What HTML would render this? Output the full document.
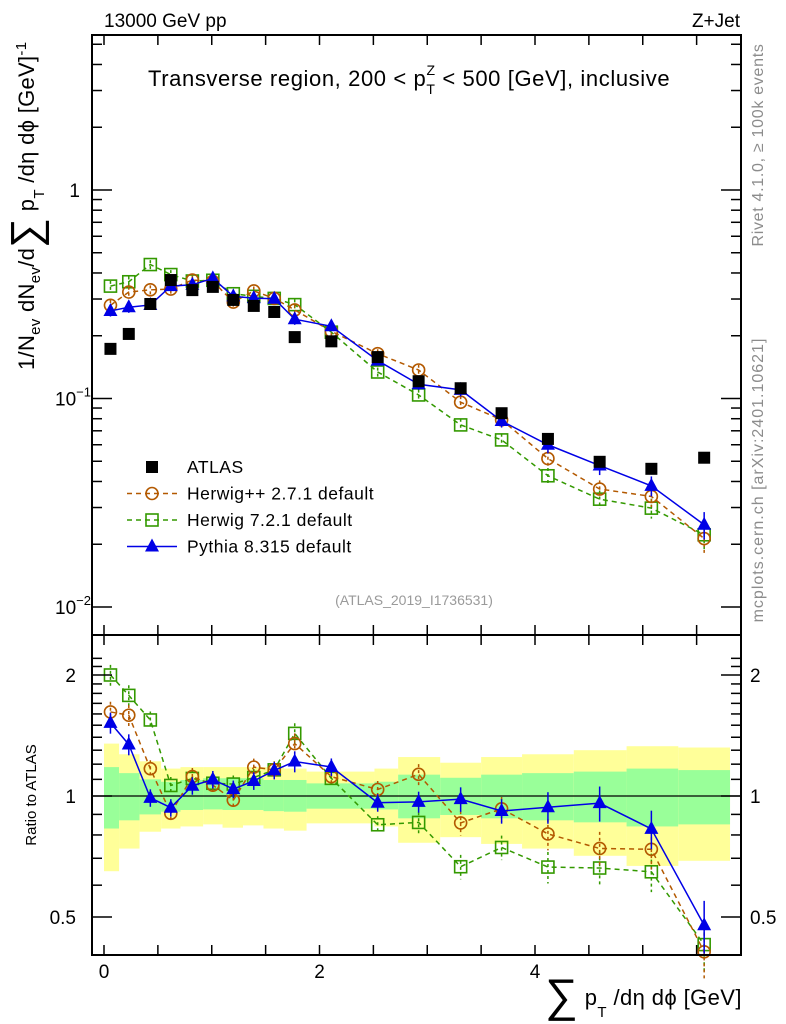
<!DOCTYPE html>
<html><head><meta charset="utf-8"><style>
html,body{margin:0;padding:0;background:#fff;}
svg{display:block;font-family:"Liberation Sans","DejaVu Sans",sans-serif;}
</style></head><body>
<svg id="chart" width="786" height="1024" viewBox="0 0 786 1024" xmlns="http://www.w3.org/2000/svg">
<rect x="0" y="0" width="786" height="1024" fill="#fff"/>
<g id="bands"></g>
<g id="marks"></g>
<g id="axes"></g>
<text x="104" y="27" font-size="19">13000 GeV pp</text>
<text x="740" y="27" font-size="19" text-anchor="end">Z+Jet</text>
<text x="148" y="86" font-size="22" letter-spacing="0.6">Transverse region, 200 &lt; p<tspan font-size="14" dy="8">T</tspan><tspan font-size="14" dx="-9" dy="-19">Z</tspan><tspan dy="11"> &lt; 500 [GeV], inclusive</tspan></text>
<text transform="translate(763,145) rotate(-90)" font-size="16" fill="#8c8c8c" text-anchor="middle" letter-spacing="0.7">Rivet 4.1.0, ≥ 100k events</text>
<text transform="translate(763,480) rotate(-90)" font-size="16" fill="#8c8c8c" text-anchor="middle" letter-spacing="1">mcplots.cern.ch [arXiv:2401.10621]</text>
<text x="414" y="605" font-size="14" fill="#9a9a9a" text-anchor="middle">(ATLAS_2019_I1736531)</text>
<text transform="translate(34,370) rotate(-90)" font-size="22" letter-spacing="0.3">1/N<tspan font-size="15" dy="6">ev</tspan><tspan dy="-6"> dN</tspan><tspan font-size="15" dy="6">ev</tspan><tspan dy="-6">/d</tspan><tspan font-size="42" dy="6">∑</tspan><tspan dy="-6"> p</tspan><tspan font-size="15" dy="10">T</tspan><tspan dy="-10"> /dη dϕ  [GeV]</tspan><tspan font-size="15" dy="-8">-1</tspan></text>
<text transform="translate(36,795) rotate(-90)" font-size="15" text-anchor="middle">Ratio to ATLAS</text>
<text x="545" y="1005" font-size="22" letter-spacing="0.4"><tspan font-size="46" dy="6">∑</tspan><tspan dy="-6"> p</tspan><tspan font-size="15" dy="12">T</tspan><tspan dy="-12"> /dη dϕ [GeV]</tspan></text>
<g id="legend"></g>
</svg>
<script>
// ---- data ----
const binCenters = [0.06,0.23,0.43,0.62,0.82,1.01,1.2,1.39,1.58,1.77,2.11,2.54,2.92,3.31,3.69,4.12,4.6,5.08,5.57];
const atlasValues = [0.173,0.204,0.284,0.37,0.331,0.343,0.297,0.278,0.26,0.197,0.188,0.158,0.121,0.112,0.085,0.064,0.0497,0.046,0.052];
const herwigppValues = [0.280,0.324,0.332,0.335,0.370,0.365,0.290,0.328,0.302,0.266,0.210,0.164,0.137,0.096,0.079,0.0515,0.0368,0.0339,0.0213];
const herwig7Values = [0.346,0.363,0.439,0.393,0.366,0.369,0.318,0.309,0.302,0.282,0.208,0.134,0.104,0.0747,0.0633,0.0426,0.0329,0.0298,0.0222];
const pythiaValues = [0.263,0.274,0.281,0.346,0.351,0.377,0.309,0.303,0.301,0.240,0.222,0.152,0.117,0.110,0.078,0.060,0.0477,0.0381,0.0248];
const mcRelErr = [0.06,0.06,0.05,0.05,0.05,0.05,0.05,0.05,0.05,0.06,0.05,0.05,0.06,0.07,0.07,0.09,0.1,0.11,0.15];
const bandEdges = [0,0.14,0.33,0.53,0.71,0.92,1.1,1.29,1.48,1.67,1.88,2.51,2.73,3.12,3.5,3.88,4.36,4.85,5.33,5.81];
const yellowUp = [1.35,1.27,1.22,1.17,1.18,1.18,1.18,1.18,1.18,1.17,1.15,1.17,1.25,1.21,1.25,1.27,1.30,1.33,1.32];
const yellowDn = [0.65,0.74,0.815,0.83,0.84,0.85,0.834,0.845,0.83,0.82,0.855,0.84,0.765,0.79,0.76,0.74,0.71,0.67,0.69];
const greenUp = [1.18,1.14,1.10,1.085,1.096,1.107,1.107,1.107,1.096,1.096,1.075,1.085,1.13,1.11,1.13,1.14,1.15,1.17,1.16];
const greenDn = [0.83,0.87,0.90,0.914,0.923,0.926,0.923,0.923,0.917,0.914,0.93,0.926,0.88,0.897,0.88,0.87,0.86,0.84,0.85];
const xTickLabels = ["0","2","4"];
const ratioTickLabels = ["0.5","1","2"];

// ---- axes functions ----
const L=92,R=741,T=35,M=635,B=955;
const sx = v => 104 + 107.75*v;
const sy = v => 190 - 208.5*Math.log10(v);
const sr = r => 796 - 402*Math.log10(r);
const NS="http://www.w3.org/2000/svg";
function mk(tag, attrs, parent){const e=document.createElementNS(NS,tag);for(const k in attrs)e.setAttribute(k,attrs[k]);parent.appendChild(e);return e;}
const bands=document.getElementById('bands'), marks=document.getElementById('marks'), axes=document.getElementById('axes'), legend=document.getElementById('legend');

for(let i=0;i<yellowUp.length;i++){
  const x0=sx(bandEdges[i]), x1=sx(bandEdges[i+1]);
  const y=mk('rect',{x:x0,y:sr(yellowUp[i]),width:x1-x0,height:sr(yellowDn[i])-sr(yellowUp[i]),fill:'#ffff99'},bands);
  
  
  const g=mk('rect',{x:x0,y:sr(greenUp[i]),width:x1-x0,height:sr(greenDn[i])-sr(greenUp[i]),fill:'#99ff99'},bands);
  
  
}
const one=mk('line',{x1:L,x2:R,y1:sr(1),y2:sr(1),stroke:'#000','stroke-width':1.3},bands);



const f1=mk('rect',{x:L,y:T,width:R-L,height:M-T,fill:'none',stroke:'#000','stroke-width':2},axes);


const f2=mk('rect',{x:L,y:M,width:R-L,height:B-M,fill:'none',stroke:'#000','stroke-width':2},axes);



for(let v=0;v<=5.5;v+=0.5){
  const x=sx(v);
  for(const [a,b] of [[T,T+10],[M-10,M],[M,M+10],[B-10,B]]){
    const t=mk('line',{x1:x,x2:x,y1:a,y2:b,stroke:'#000','stroke-width':1.5},axes);
    
    
  }
}
xTickLabels.forEach(s=>{
  const t=mk('text',{x:sx(+s),y:978,'font-size':19,'text-anchor':'middle'},axes);
  t.textContent=s;
  
  
});
for(let e=-2;e<=0;e++){
  for(let m=1;m<=9;m++){
    const v=m*Math.pow(10,e); const y=sy(v);
    if(y<T||y>M) continue;
    const len=m==1?20:10;
    const a=mk('line',{x1:L,x2:L+len,y1:y,y2:y,stroke:'#000','stroke-width':1.5},axes);
    
    
    const b=mk('line',{x1:R-len,x2:R,y1:y,y2:y,stroke:'#000','stroke-width':1.5},axes);
    
    
  }
}
const y1l=mk('text',{x:80,y:sy(1)+7,'font-size':19,'text-anchor':'end'},axes);
y1l.textContent='1';


[-1,-2].forEach(e=>{
  const t=mk('text',{x:55,y:sy(Math.pow(10,e))+7,'font-size':19},axes);
  t.innerHTML='10<tspan font-size="13" dy="-9">−'+(-e)+'</tspan>';
  
  
});
for(let k=5;k<=22;k++){
  const r=k/10, y=sr(r);
  if(y<M||y>B) continue;
  const len=(k==5||k==10||k==20)?20:10;
  const a=mk('line',{x1:L,x2:L+len,y1:y,y2:y,stroke:'#000','stroke-width':1.5},axes);
  
  
  const b=mk('line',{x1:R-len,x2:R,y1:y,y2:y,stroke:'#000','stroke-width':1.5},axes);
  
  
}
ratioTickLabels.forEach(s=>{
  const a=mk('text',{x:76,y:sr(+s)+7,'font-size':19,'text-anchor':'end'},axes);
  a.textContent=s;
  
  
  const b=mk('text',{x:750,y:sr(+s)+7,'font-size':19},axes);
  b.textContent=s;
  
  
});

function marker(kind,color,x,y,parent){
  let e;
  if(kind==='sq') e=mk('rect',{x:x-6,y:y-6,width:12,height:12,fill:'#000'},parent);
  else if(kind==='osq') e=mk('rect',{x:x-6,y:y-6,width:12,height:12,fill:'none',stroke:color,'stroke-width':1.6},parent);
  else if(kind==='oc') e=mk('circle',{cx:x,cy:y,r:6,fill:'none',stroke:color,'stroke-width':1.6},parent);
  else e=mk('polygon',{points:`${x},${y-8} ${x-7},${y+5} ${x+7},${y+5}`,fill:color},parent);
  return e;
}
const series=[
  {name:'herwig7',vals:herwig7Values,color:'#339900',kind:'osq',dash:'5,4'},
  {name:'herwigpp',vals:herwigppValues,color:'#b35900',kind:'oc',dash:'5,4'},
  {name:'pythia',vals:pythiaValues,color:'#0000e6',kind:'tri',dash:''}
];
series.forEach(s=>{
  const pm=binCenters.map((c,i)=>`${sx(c)},${sy(s.vals[i])}`).join(' ');
  const pr=binCenters.map((c,i)=>`${sx(c)},${sr(s.vals[i]/atlasValues[i])}`).join(' ');
  const l1=mk('polyline',{points:pm,fill:'none',stroke:s.color,'stroke-width':1.5,'stroke-dasharray':s.dash},marks);
  
  
  const l2=mk('polyline',{points:pr,fill:'none',stroke:s.color,'stroke-width':1.5,'stroke-dasharray':s.dash},marks);
  
  
  binCenters.forEach((c,i)=>{
    const x=sx(c), v=s.vals[i], r=v/atlasValues[i], e=mcRelErr[i];
    [[sy(v*(1+e)),sy(v*(1-e)),sy(v)],[sr(r*(1+e)),sr(r*(1-e)),sr(r)]].forEach(([a,b,m],k)=>{
      const eb=mk('line',{x1:x,x2:x,y1:a,y2:b,stroke:s.color,'stroke-width':1.5,'stroke-dasharray':s.dash?'3,3':''},marks);
      
      
      const p=marker(s.kind,s.color,x,m,marks);
      
      
    });
  });
});
binCenters.forEach((c,i)=>{
  const p=marker('sq','#000',sx(c),sy(atlasValues[i]),marks);
  
  
});

const legItems=[{kind:'sq',color:'#000',dash:'',label:'ATLAS',n:'atlas'},{kind:'oc',color:'#b35900',dash:'5,4',label:'Herwig++ 2.7.1 default',n:'herwigpp'},{kind:'osq',color:'#339900',dash:'5,4',label:'Herwig 7.2.1 default',n:'herwig7'},{kind:'tri',color:'#0000e6',dash:'',label:'Pythia 8.315 default',n:'pythia'}];
legItems.forEach((it,i)=>{
  const y=467+i*26.5;
  if(it.n!=='atlas'){
    const ln=mk('line',{x1:127,x2:177,y1:y,y2:y,stroke:it.color,'stroke-width':1.5,'stroke-dasharray':it.dash},legend);
    
    
  }
  const m=marker(it.kind,it.color,152,y,legend);
  
  
  const t=mk('text',{x:187,y:y+6,'font-size':17.5,'letter-spacing':0.5},legend);
  t.textContent=it.label;
  
  
});
</script>
</body></html>
